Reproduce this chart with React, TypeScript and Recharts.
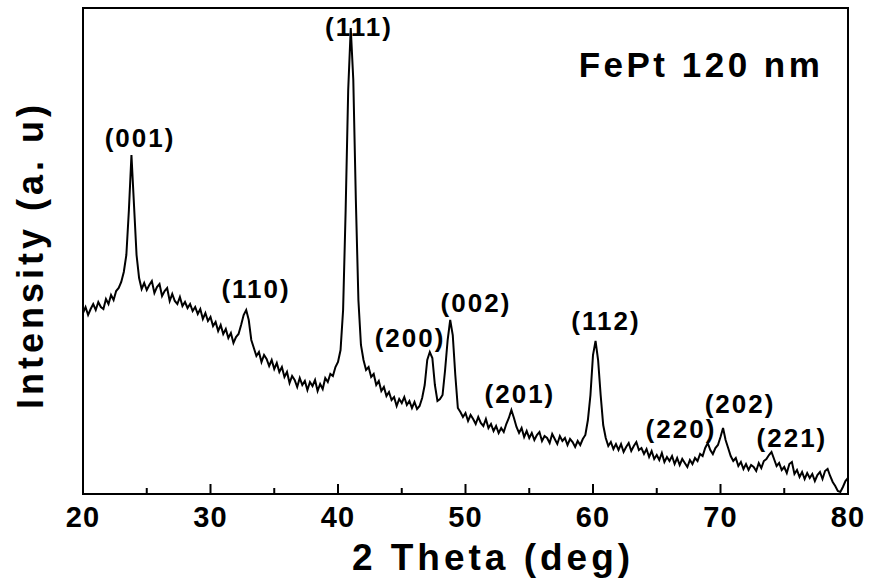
import { LineChart, Line, XAxis, YAxis, ReferenceArea, ReferenceDot } from "recharts";

const FONT = "'Liberation Sans', Arial, sans-serif";

// 2θ scan, 0.2° step
const twoTheta = [
  20, 20.2, 20.4, 20.6, 20.8, 21, 21.2, 21.4, 21.6, 21.8,
  22, 22.2, 22.4, 22.6, 22.8, 23, 23.2, 23.4, 23.6, 23.8,
  24, 24.2, 24.4, 24.6, 24.8, 25, 25.2, 25.4, 25.6, 25.8,
  26, 26.2, 26.4, 26.6, 26.8, 27, 27.2, 27.4, 27.6, 27.8,
  28, 28.2, 28.4, 28.6, 28.8, 29, 29.2, 29.4, 29.6, 29.8,
  30, 30.2, 30.4, 30.6, 30.8, 31, 31.2, 31.4, 31.6, 31.8,
  32, 32.2, 32.4, 32.6, 32.8, 33, 33.2, 33.4, 33.6, 33.8,
  34, 34.2, 34.4, 34.6, 34.8, 35, 35.2, 35.4, 35.6, 35.8,
  36, 36.2, 36.4, 36.6, 36.8, 37, 37.2, 37.4, 37.6, 37.8,
  38, 38.2, 38.4, 38.6, 38.8, 39, 39.2, 39.4, 39.6, 39.8,
  40, 40.2, 40.4, 40.6, 40.8, 41, 41.2, 41.4, 41.6, 41.8,
  42, 42.2, 42.4, 42.6, 42.8, 43, 43.2, 43.4, 43.6, 43.8,
  44, 44.2, 44.4, 44.6, 44.8, 45, 45.2, 45.4, 45.6, 45.8,
  46, 46.2, 46.4, 46.6, 46.8, 47, 47.2, 47.4, 47.6, 47.8,
  48, 48.2, 48.4, 48.6, 48.8, 49, 49.2, 49.4, 49.6, 49.8,
  50, 50.2, 50.4, 50.6, 50.8, 51, 51.2, 51.4, 51.6, 51.8,
  52, 52.2, 52.4, 52.6, 52.8, 53, 53.2, 53.4, 53.6, 53.8,
  54, 54.2, 54.4, 54.6, 54.8, 55, 55.2, 55.4, 55.6, 55.8,
  56, 56.2, 56.4, 56.6, 56.8, 57, 57.2, 57.4, 57.6, 57.8,
  58, 58.2, 58.4, 58.6, 58.8, 59, 59.2, 59.4, 59.6, 59.8,
  60, 60.2, 60.4, 60.6, 60.8, 61, 61.2, 61.4, 61.6, 61.8,
  62, 62.2, 62.4, 62.6, 62.8, 63, 63.2, 63.4, 63.6, 63.8,
  64, 64.2, 64.4, 64.6, 64.8, 65, 65.2, 65.4, 65.6, 65.8,
  66, 66.2, 66.4, 66.6, 66.8, 67, 67.2, 67.4, 67.6, 67.8,
  68, 68.2, 68.4, 68.6, 68.8, 69, 69.2, 69.4, 69.6, 69.8,
  70, 70.2, 70.4, 70.6, 70.8, 71, 71.2, 71.4, 71.6, 71.8,
  72, 72.2, 72.4, 72.6, 72.8, 73, 73.2, 73.4, 73.6, 73.8,
  74, 74.2, 74.4, 74.6, 74.8, 75, 75.2, 75.4, 75.6, 75.8,
  76, 76.2, 76.4, 76.6, 76.8, 77, 77.2, 77.4, 77.6, 77.8,
  78, 78.2, 78.4, 78.6, 78.8, 79, 79.2, 79.4, 79.6, 79.8,
  80,
];

// intensity (a.u.)
const intensity = [
  181, 187, 179, 185, 190, 184, 192, 187, 185, 195, // 20-21
  190, 199, 194, 203, 206, 212, 222, 239, 284, 339, // 22-23
  289, 239, 216, 205, 211, 204, 209, 213, 201, 207, // 24-25
  210, 198, 203, 206, 193, 200, 193, 190, 197, 188, // 26-27
  192, 186, 190, 183, 187, 180, 185, 175, 181, 173, // 28-29
  177, 168, 172, 163, 169, 160, 165, 156, 161, 151, // 30-31
  157, 160, 169, 179, 184, 174, 154, 146, 138, 142, // 32-33
  132, 139, 135, 128, 134, 125, 131, 122, 127, 117, // 34-35
  122, 111, 118, 114, 107, 116, 109, 113, 104, 112, // 36-37
  108, 114, 103, 110, 105, 116, 112, 120, 118, 127, // 38-39
  132, 144, 184, 284, 404, 466, 414, 294, 194, 149, // 40-41
  134, 124, 127, 117, 120, 109, 113, 103, 107, 98, // 42-43
  102, 94, 97, 88, 95, 91, 97, 89, 93, 86, // 44-45
  92, 85, 88, 96, 109, 134, 142, 136, 109, 93, // 46-47
  95, 99, 124, 154, 174, 159, 119, 86, 82, 77, // 48-49
  81, 73, 79, 75, 70, 77, 71, 68, 75, 66, // 50-51
  70, 63, 68, 61, 66, 62, 70, 76, 84, 76, // 52-53
  67, 61, 66, 57, 63, 56, 61, 54, 59, 62, // 54-55
  53, 58, 56, 51, 60, 55, 50, 58, 53, 56, // 56-57
  49, 55, 52, 47, 53, 49, 55, 59, 74, 99, // 58-59
  139, 153, 134, 99, 69, 56, 48, 52, 45, 50, // 60-61
  44, 50, 42, 47, 51, 43, 48, 52, 44, 46, // 62-63
  40, 45, 37, 43, 35, 39, 34, 41, 32, 37, // 64-65
  33, 38, 30, 36, 29, 35, 31, 27, 34, 30, // 66-67
  36, 33, 40, 38, 46, 51, 44, 40, 46, 49, // 68-69
  57, 66, 54, 46, 38, 33, 36, 28, 32, 25, // 70-71
  30, 24, 29, 27, 23, 31, 26, 33, 35, 39, // 72-73
  42, 35, 28, 31, 24, 27, 21, 30, 32, 20, // 74-75
  24, 17, 22, 15, 21, 16, 20, 13, 19, 22, // 76-77
  15, 23, 25, 18, 12, 8, 3, 2, 7, 13, // 78-79
  16,
];

const xTicks = [20, 25, 30, 35, 40, 45, 50, 55, 60, 65, 70, 75, 80];

// Miller index labels and where their text sits
const peakLabels = ["(001)", "(110)", "(111)", "(200)", "(002)", "(201)", "(112)", "(220)", "(202)", "(221)"];
const labelTheta = [24.47, 33.57, 41.65, 45.65, 50.82, 54.27, 61.02, 66.9, 71.53, 75.6];
const labelIntensity = [347, 196, 458, 147, 182, 91, 164, 56, 81, 47];

const data = twoTheta.map((t, i) => ({ t, y: intensity[i] }));

function Tick(props: any) {
  const { x, y, payload } = props;
  const major = payload.value % 10 === 0;
  return (
    <g>
      <line x1={x} x2={x} y1={y} y2={y - (major ? 10 : 6)} stroke="#000" strokeWidth={2} />
      {major && (
        <text
          x={x}
          y={y + 33}
          textAnchor="middle"
          fontFamily={FONT}
          fontWeight="bold"
          fontSize={29}
          letterSpacing={1}
          fill="#000"
        >
          {payload.value}
        </text>
      )}
    </g>
  );
}

export default function App() {
  return (
    <div style={{ position: "absolute", left: 0, top: 0, width: 869, height: 588, background: "#fff" }}>
      <LineChart width={869} height={588} data={data} margin={{ top: 8, right: 21, bottom: 0, left: 83 }}>
        <XAxis
          dataKey="t"
          type="number"
          domain={[20, 80]}
          ticks={xTicks}
          interval={0}
          height={94}
          axisLine={false}
          tickLine={false}
          tickSize={0}
          tickMargin={0}
          tick={<Tick />}
          allowDataOverflow
        />
        <YAxis hide type="number" domain={[0, 486]} allowDataOverflow />
        <Line
          dataKey="y"
          type="linear"
          stroke="#000"
          strokeWidth={2}
          dot={false}
          isAnimationActive={false}
        />
        <ReferenceArea
          x1={20}
          x2={80}
          y1={0}
          y2={486}
          fill="none"
          fillOpacity={0}
          stroke="#000"
          strokeWidth={2}
          ifOverflow="visible"
        />
        {peakLabels.map((lbl, i) => (
          <ReferenceDot
            key={lbl}
            x={labelTheta[i]}
            y={labelIntensity[i]}
            ifOverflow="visible"
            shape={(p: any) => (
              <text
                x={p.cx}
                y={p.cy}
                textAnchor="middle"
                fontFamily={FONT}
                fontWeight="bold"
                fontSize={26}
                letterSpacing={2}
                fill="#000"
              >
                {lbl}
              </text>
            )}
          />
        ))}
      </LineChart>
      <svg
        width={869}
        height={588}
        style={{ position: "absolute", left: 0, top: 0, pointerEvents: "none" }}
      >
        <text x={701} y={77} textAnchor="middle" fontFamily={FONT} fontWeight="bold" fontSize={35} letterSpacing={3.5}>
          FePt 120 nm
        </text>
        <text x={493} y={570} textAnchor="middle" fontFamily={FONT} fontWeight="bold" fontSize={37} letterSpacing={4}>
          2 Theta (deg)
        </text>
        <text
          x={43}
          y={255}
          transform="rotate(-90 43 255)"
          textAnchor="middle"
          fontFamily={FONT}
          fontWeight="bold"
          fontSize={36}
          letterSpacing={4}
        >
          Intensity (a. u)
        </text>
      </svg>
    </div>
  );
}
